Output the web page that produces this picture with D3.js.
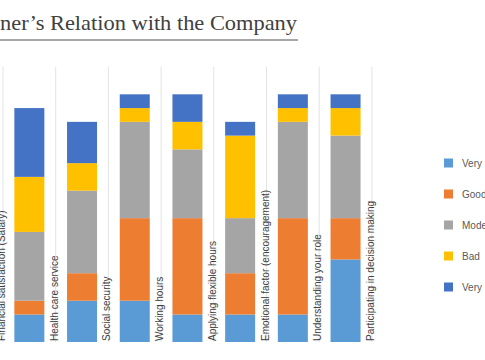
<!DOCTYPE html>
<html>
<head>
<meta charset="utf-8">
<script src="https://cdn.jsdelivr.net/npm/d3@7"></script>
<style>
  html, body { margin: 0; padding: 0; background: #fff; }
  svg { display: block; }
</style>
</head>
<body>
<svg id="chart" width="485" height="360"></svg>
<script>
// ---- data ----
const titleText = "ner\u2019s Relation with the Company";
const categories = [
  "Financial satisfaction (Salary)",
  "Health care service",
  "Social security",
  "Working hours",
  "Applying flexible hours",
  "Emotional factor (encouragement)",
  "Understanding your role",
  "Participating in decision making"
];
const seriesNames = ["Very good", "Good", "Moderate", "Bad", "Very bad"];
// values per category (first category's bar lies outside the cropped view)
const veryGood = [null, 2, 3, 3, 2, 2, 2, 6];
const good     = [null, 1, 2, 6, 7, 3, 7, 3];
const moderate = [null, 5, 6, 7, 5, 4, 7, 6];
const bad      = [null, 4, 2, 1, 2, 6, 1, 2];
const veryBad  = [null, 5, 3, 1, 2, 1, 1, 1];
const colors = ["#5B9BD5", "#ED7D31", "#A5A5A5", "#FFC000", "#4472C4"];

const svg = d3.select("#chart");

// ---- title ----
svg.append("text")
  .attr("x", 0).attr("y", 30)
  .attr("font-family", "Liberation Serif, DejaVu Serif, serif")
  .attr("font-size", 22)
  .attr("fill", "#404040")
  .attr("textLength", 297)
  .attr("lengthAdjust", "spacingAndGlyphs")
  .text(titleText);
svg.append("line")
  .attr("x1", 0).attr("x2", 298).attr("y1", 40).attr("y2", 40)
  .attr("stroke", "#a6a6a6").attr("stroke-width", 2);

// ---- scales ----
const rows = categories.map((c, i) => ({
  cat: c,
  "Very good": veryGood[i], "Good": good[i], "Moderate": moderate[i],
  "Bad": bad[i], "Very bad": veryBad[i]
}));
const step = 52.7;
const x = d3.scaleBand().domain(categories)
  .range([3 - step, 3 + 7 * step]).paddingInner(0).paddingOuter(0);
const y = d3.scaleLinear().domain([0, 20]).range([342, 66.8]);
const color = d3.scaleOrdinal().domain(seriesNames).range(colors);

// ---- gridlines (at right boundary of each band) ----
svg.append("g").selectAll("line").data(categories).join("line")
  .attr("x1", d => x(d) + x.bandwidth()).attr("x2", d => x(d) + x.bandwidth())
  .attr("y1", y(20)).attr("y2", y(0))
  .attr("stroke", "#e3e3e3").attr("stroke-width", 1);

// ---- stacked bars ----
const stacked = d3.stack().keys(seriesNames)(rows.filter(r => r["Very good"] !== null));
const barW = 30;
svg.append("g").selectAll("g").data(stacked).join("g")
  .attr("fill", d => color(d.key))
  .selectAll("rect").data(d => d).join("rect")
  .attr("x", d => x(d.data.cat) + (x.bandwidth() - barW) / 2)
  .attr("width", barW)
  .attr("y", d => y(d[1]))
  .attr("height", d => y(d[0]) - y(d[1]));

// ---- category labels (rotated, at band's right boundary) ----
svg.append("g").selectAll("text").data(categories).join("text")
  .attr("transform", d => `translate(${x(d) + x.bandwidth() + 2},341) rotate(-90)`)
  .attr("font-family", "Liberation Sans, Arial, sans-serif")
  .attr("font-size", 10)
  .attr("fill", "#404040")
  .attr("text-anchor", "start")
  .text(d => d);

// ---- legend ----
const ly = d3.scalePoint().domain(seriesNames).range([163, 287]);
const lg = svg.append("g").selectAll("g").data(seriesNames).join("g")
  .attr("transform", d => `translate(444,${ly(d)})`);
lg.append("rect").attr("x", 0).attr("y", -4.5).attr("width", 9).attr("height", 9)
  .attr("fill", d => color(d));
lg.append("text").attr("x", 18).attr("y", 0).attr("dy", "0.35em")
  .attr("font-family", "Liberation Sans, Arial, sans-serif")
  .attr("font-size", 10).attr("fill", "#595959")
  .text(d => d);
</script>
</body>
</html>
